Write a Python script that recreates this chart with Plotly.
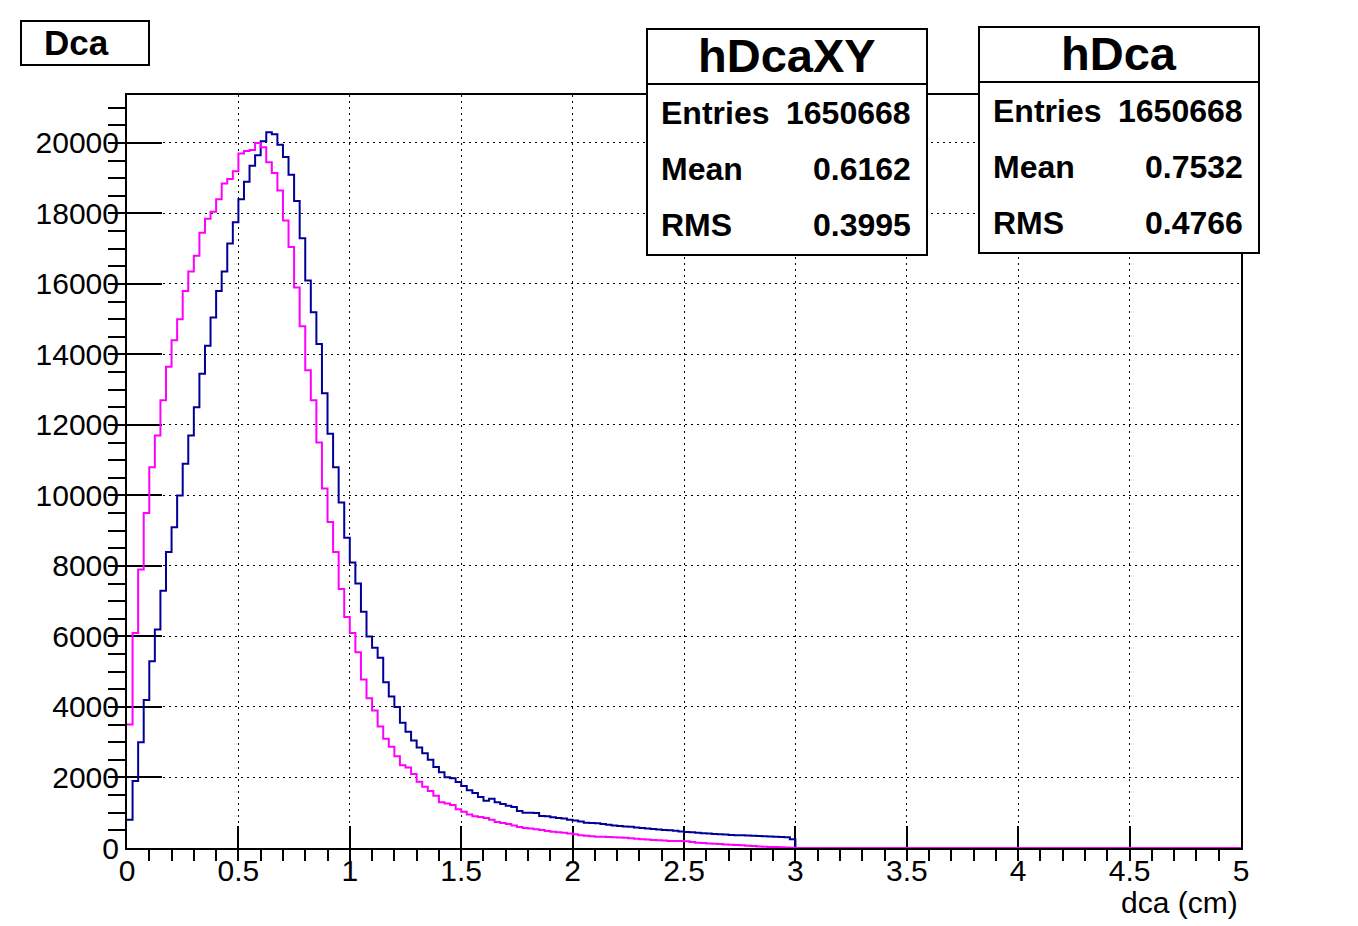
import numpy as np
import plotly.graph_objects as go

# ---------------- data ----------------
BIN_WIDTH = 0.025
X_MIN, X_MAX = 0.0, 5.0
Y_MAX = 21360

# hDcaXY (magenta), bins of 0.025 cm from 0 to 3 cm
hDcaXY_counts = [
    3500, 6100, 7900, 9500, 10800, 11700, 12700, 13650, 14400, 15000,
    15800, 16350, 16800, 17450, 17850, 18050, 18400, 18850, 18980, 19200,
    19700, 19770, 19800, 20000, 19880, 19450, 19150, 18650, 17800, 17050,
    15900, 14800, 13550, 12700, 11500, 10200, 9250, 8400, 7350, 6550,
    6100, 5550, 4780, 4250, 3900, 3450, 3100, 2870, 2600, 2350,
    2280, 2100, 1880, 1740, 1620, 1480, 1300, 1260, 1220, 1100,
    1030, 950, 900, 880, 850, 800, 740, 710, 680, 640,
    596, 570, 550, 530, 511, 485, 460, 445, 430, 410,
    390, 365, 345, 330, 322, 316, 312, 308, 300, 290,
    275, 262, 250, 240, 230, 220, 210, 200, 200, 200,
    195, 170, 150, 140, 130, 120, 110, 100, 90, 85,
    75, 65, 55, 45, 35, 30, 25, 20, 15, 10,
]

# hDca (dark blue), bins of 0.025 cm from 0 to 3 cm
hDca_counts = [
    800, 1900, 3000, 4200, 5300, 6200, 7300, 8400, 9100, 10000,
    10900, 11700, 12500, 13450, 14250, 15050, 15800, 16350, 17150, 17750,
    18400, 18900, 19350, 19650, 20050, 20300, 20250, 19950, 19600, 19100,
    18350, 17300, 16100, 15200, 14300, 12900, 11750, 10800, 9800, 8800,
    8100, 7500, 6700, 6000, 5680, 5400, 4700, 4300, 4000, 3550,
    3300, 3050, 2850, 2690, 2500, 2300, 2150, 2010, 1980, 1870,
    1760, 1640, 1560, 1447, 1340, 1400, 1300, 1248, 1200, 1163,
    1050, 1000, 1000, 993, 910, 900, 870, 851, 840, 800,
    780, 750, 715, 710, 705, 680, 660, 640, 625, 610,
    600, 580, 570, 555, 540, 525, 510, 500, 490, 470,
    455, 445, 430, 420, 410, 400, 390, 380, 370, 365,
    360, 355, 350, 340, 335, 325, 320, 312, 305, 250,
]

# empty bins from 3 cm to 5 cm
empty_bins = [0] * 80

x_tick_vals = [0, 0.5, 1, 1.5, 2, 2.5, 3, 3.5, 4, 4.5, 5]
y_tick_vals = [0, 2000, 4000, 6000, 8000, 10000, 12000, 14000, 16000, 18000, 20000]

stat_names = ["hDcaXY", "hDca"]
stat_entries = ["1650668", "1650668"]
stat_means = ["0.6162", "0.7532"]
stat_rms = ["0.3995", "0.4766"]

pad_title = "Dca"
x_title = "dca (cm)"

# ---------------- figure ----------------
PAGE_OFFSET = 8          # default body margin of the html page
PAGE_W, PAGE_H = 1358, 926
W, H = PAGE_W - PAGE_OFFSET, PAGE_H - PAGE_OFFSET
L, R, T, B = 127, 1241, 95, 848  # plot area in page pixels

def xp(px):
    return (px - L) / (R - L)

def yp(py):
    return (B - py) / (B - T)

n_bins = int(round((X_MAX - X_MIN) / BIN_WIDTH))
edges = X_MIN + BIN_WIDTH * np.arange(n_bins + 1)

def step(counts):
    full = list(counts) + empty_bins
    return edges, full + [full[-1]]

FONT = "Liberation Sans, Arial, Helvetica, sans-serif"
BLUE = "#000099"
MAGENTA = "#ff00ff"

fig = go.Figure()
xb, yb = step(hDca_counts)
fig.add_trace(go.Scatter(x=xb, y=yb, mode="lines", line=dict(color=BLUE, width=2, shape="hv"),
                         cliponaxis=False, showlegend=False, name="hDca"))
xm, ym = step(hDcaXY_counts)
fig.add_trace(go.Scatter(x=xm, y=ym, mode="lines", line=dict(color=MAGENTA, width=2, shape="hv"),
                         cliponaxis=False, showlegend=False, name="hDcaXY"))

axis_common = dict(
    showline=True, linecolor="black", linewidth=2, mirror=True,
    ticks="inside", tickcolor="black", tickwidth=2,
    showgrid=True, gridcolor="black", gridwidth=1, griddash="2px,4px",
    zeroline=False, layer="below traces",
    tickfont=dict(family=FONT, size=30, color="black"),
)

fig.update_xaxes(
    range=[X_MIN, X_MAX], tickvals=x_tick_vals, ticklen=22,
    minor=dict(dtick=0.1, ticklen=11, tickwidth=2, tickcolor="black", showgrid=False),
    ticklabelstandoff=-5,
    **axis_common,
)
fig.update_yaxes(
    range=[0, Y_MAX], tickvals=y_tick_vals, tickformat="d", ticklen=35,
    minor=dict(dtick=500, ticklen=17, tickwidth=2, tickcolor="black", showgrid=False),
    ticklabelstandoff=0,
    **axis_common,
)

shapes = []
annotations = []

# pad title box
shapes.append(dict(type="rect", xref="paper", yref="paper",
                   x0=xp(21), x1=xp(149), y0=yp(65), y1=yp(21),
                   line=dict(color="black", width=2), fillcolor="white", layer="above"))
annotations.append(dict(xref="paper", yref="paper", x=xp(76), y=yp(42), text="<b>%s</b>" % pad_title,
                        showarrow=False, xanchor="center", yanchor="middle",
                        font=dict(family=FONT, size=35, color="black")))

# stat boxes
box_lefts = [647, 979]
box_tops = [29, 27]
for i, name in enumerate(stat_names):
    bl = box_lefts[i]
    br = bl + 280
    bt = box_tops[i]
    bb = bt + 226
    sep = bt + 55
    shapes.append(dict(type="rect", xref="paper", yref="paper",
                       x0=xp(bl), x1=xp(br), y0=yp(bb), y1=yp(bt),
                       line=dict(color="black", width=2), fillcolor="white", layer="above"))
    shapes.append(dict(type="line", xref="paper", yref="paper",
                       x0=xp(bl), x1=xp(br), y0=yp(sep), y1=yp(sep),
                       line=dict(color="black", width=2), layer="above"))
    annotations.append(dict(xref="paper", yref="paper", x=xp((bl + br) / 2), y=yp(bt + 26),
                            text="<b>%s</b>" % name, showarrow=False,
                            xanchor="center", yanchor="middle",
                            font=dict(family=FONT, size=47, color="black")))
    rows = [("Entries", stat_entries[i]), ("Mean", stat_means[i]), ("RMS", stat_rms[i])]
    for j, (lab, val) in enumerate(rows):
        rowy = bt + 84 + j * 56
        annotations.append(dict(xref="paper", yref="paper", x=xp(bl + 12), y=yp(rowy),
                                text="<b>%s</b>" % lab, showarrow=False,
                                xanchor="left", yanchor="middle",
                                font=dict(family=FONT, size=32, color="black")))
        annotations.append(dict(xref="paper", yref="paper", x=xp(br - 14), y=yp(rowy),
                                text="<b>%s</b>" % val, showarrow=False,
                                xanchor="right", yanchor="middle",
                                font=dict(family=FONT, size=32, color="black")))

# x axis title (right aligned, ROOT style)
annotations.append(dict(xref="paper", yref="paper", x=xp(1240), y=yp(902), text=x_title,
                        showarrow=False, xanchor="right", yanchor="middle",
                        font=dict(family=FONT, size=30, color="black")))

fig.update_layout(
    width=W, height=H,
    margin=dict(l=L - PAGE_OFFSET, r=PAGE_W - R, t=T - PAGE_OFFSET, b=PAGE_H - B),
    paper_bgcolor="white", plot_bgcolor="white",
    shapes=shapes, annotations=annotations,
    showlegend=False,
)

fig.write_html("out.html")
